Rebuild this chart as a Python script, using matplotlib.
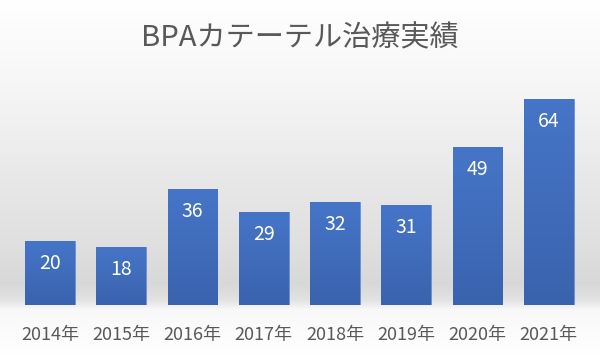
# BPAカテーテル治療実績 の棒グラフ

import numpy as np
import matplotlib.pyplot as plt
from matplotlib.colors import LinearSegmentedColormap

plt.rcParams['font.family'] = ['Noto Sans CJK JP', 'DejaVu Sans']

years = ['2014年', '2015年', '2016年', '2017年', '2018年', '2019年', '2020年', '2021年']
counts = [20, 18, 36, 29, 32, 31, 49, 64]

fig = plt.figure(figsize=(6, 3.56), dpi=100)

# 背景のグラデーション (上は白、下に行くほど灰色、軸の下は白に戻る)
bg = fig.add_axes([0, 0, 1, 1], zorder=0)
bg_stops = [(0.0, '#ffffff'), (0.22, '#f7f7f7'), (0.5, '#e8e8e8'),
            (0.68, '#e0e0e0'), (0.8, '#d8d8d8'), (0.845, '#e3e3e3'),
            (0.87, '#f8f8f8'), (1.0, '#ffffff')]
bg_cmap = LinearSegmentedColormap.from_list('bg', bg_stops)
bg.imshow(np.linspace(0, 1, 256).reshape(-1, 1), aspect='auto', cmap=bg_cmap,
          extent=[0, 1, 0, 1], origin='upper')
bg.set_axis_off()

ax = fig.add_axes([0.024, 0.143, 0.95, 0.66], zorder=1)
ax.patch.set_alpha(0)
x = np.arange(len(years))
bars = ax.bar(x, counts, width=0.70, color='#4472c4', edgecolor='#6a8fd4', linewidth=0.6)

# 棒の中を縦グラデーションで塗る
bar_cmap = LinearSegmentedColormap.from_list('bar', ['#3a63ad', '#4675c8'])
grad = np.linspace(0, 1, 256).reshape(-1, 1)
for b in bars:
    bx, by = b.get_x(), b.get_y()
    w, h = b.get_width(), b.get_height()
    im = ax.imshow(grad, aspect='auto', cmap=bar_cmap, origin='lower',
                   extent=[bx, bx + w, by, by + h], zorder=2)
    im.set_clip_path(b)

# 値ラベル
for xi, v in zip(x, counts):
    ax.text(xi, v - 7.0, str(v), ha='center', va='center', color='white',
            fontsize=14, zorder=3)

ax.set_xlim(-0.5, len(years) - 0.5)
ax.set_ylim(0, 73)
ax.set_xticks(x)
ax.set_xticklabels(years, fontsize=13, color='#595959')
ax.tick_params(axis='x', length=0, pad=15)
ax.set_yticks([])
for s in ax.spines.values():
    s.set_visible(False)

fig.text(0.5, 0.893, 'BPAカテーテル治療実績', ha='center', va='center',
         fontsize=21, color='#595959')

plt.savefig('out.png', dpi=100)
